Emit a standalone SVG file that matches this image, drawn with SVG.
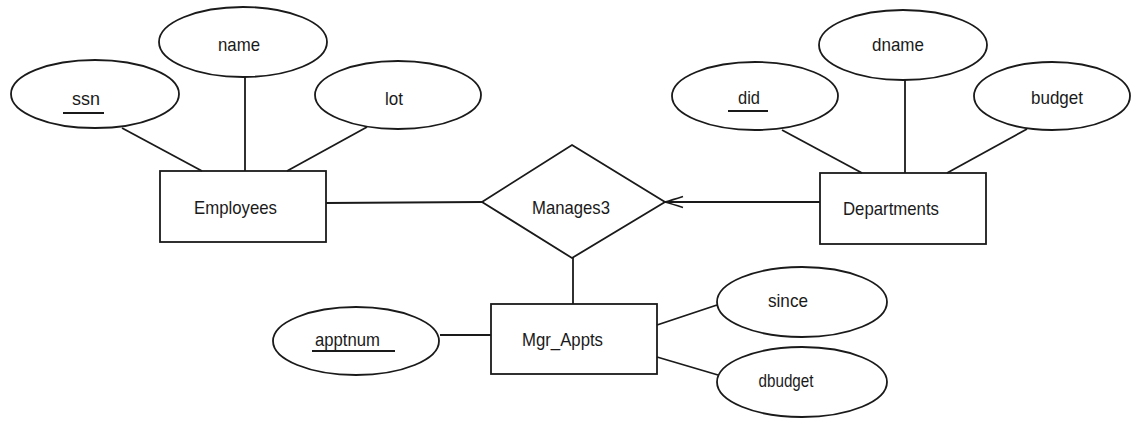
<svg xmlns="http://www.w3.org/2000/svg" width="1131" height="422" viewBox="0 0 1131 422">
  <defs>
    <style>
      .shape { fill: #ffffff; stroke: #1a1a1a; stroke-width: 1.8; }
      .conn { stroke: #1a1a1a; stroke-width: 1.8; fill: none; }
      .ul { stroke: #1a1a1a; stroke-width: 2; }
      text { font-family: "Liberation Sans", Arial, sans-serif; font-size: 19px; fill: #1a1a1a; text-anchor: middle; }
    </style>
    <marker id="openArrow" viewBox="0 0 20 14" refX="19" refY="7" markerWidth="20" markerHeight="14" markerUnits="userSpaceOnUse" orient="auto">
      <path d="M1,1.5 Q12,5 19,7 Q12,9 1,12.5" fill="none" stroke="#1a1a1a" stroke-width="1.6"/>
    </marker>
  </defs>
  <rect width="1131" height="422" fill="#ffffff"/>

  <g id="ssn">
    <ellipse class="shape" cx="95" cy="94" rx="84" ry="34"/>
    <text x="86" y="105" textLength="28" lengthAdjust="spacingAndGlyphs">ssn</text>
    <line class="ul" x1="63" y1="113" x2="104" y2="113"/>
  </g>
  <g id="name">
    <ellipse class="shape" cx="243" cy="42" rx="84" ry="35"/>
    <text x="239" y="51" textLength="42" lengthAdjust="spacingAndGlyphs">name</text>
  </g>
  <g id="lot">
    <ellipse class="shape" cx="398" cy="95" rx="83" ry="34"/>
    <text x="394" y="105" textLength="18" lengthAdjust="spacingAndGlyphs">lot</text>
  </g>
  <g id="Employees">
    <rect class="shape" x="160" y="171" width="166" height="71"/>
    <text x="235.5" y="214" textLength="83" lengthAdjust="spacingAndGlyphs">Employees</text>
  </g>

  <g id="Manages3">
    <polygon class="shape" points="572,145 665,202 572,258 482,202"/>
    <text x="571" y="214" textLength="78" lengthAdjust="spacingAndGlyphs">Manages3</text>
  </g>

  <g id="did">
    <ellipse class="shape" cx="755" cy="96" rx="83" ry="34"/>
    <text x="749" y="104" textLength="22" lengthAdjust="spacingAndGlyphs">did</text>
    <line class="ul" x1="728" y1="111" x2="768" y2="111"/>
  </g>
  <g id="dname">
    <ellipse class="shape" cx="903" cy="45" rx="84" ry="35"/>
    <text x="898" y="51" textLength="52" lengthAdjust="spacingAndGlyphs">dname</text>
  </g>
  <g id="budget">
    <ellipse class="shape" cx="1052" cy="96" rx="78" ry="34"/>
    <text x="1057" y="104" textLength="52" lengthAdjust="spacingAndGlyphs">budget</text>
  </g>
  <g id="Departments">
    <rect class="shape" x="820" y="173" width="166" height="71"/>
    <text x="891" y="215" textLength="96" lengthAdjust="spacingAndGlyphs">Departments</text>
  </g>

  <g id="Mgr_Appts">
    <rect class="shape" x="491" y="304" width="166" height="70"/>
    <text x="562.5" y="346" textLength="81" lengthAdjust="spacingAndGlyphs">Mgr_Appts</text>
  </g>
  <g id="apptnum">
    <ellipse class="shape" cx="356" cy="341" rx="83" ry="34"/>
    <text x="347.5" y="346" textLength="65" lengthAdjust="spacingAndGlyphs">apptnum</text>
    <line class="ul" x1="312" y1="351" x2="395" y2="351"/>
  </g>
  <g id="since">
    <ellipse class="shape" cx="802" cy="302" rx="85" ry="35"/>
    <text x="788" y="307" textLength="40" lengthAdjust="spacingAndGlyphs">since</text>
  </g>
  <g id="dbudget">
    <ellipse class="shape" cx="802" cy="382" rx="85" ry="35"/>
    <text x="786" y="387" textLength="55" lengthAdjust="spacingAndGlyphs">dbudget</text>
  </g>

  <g id="connectors">
    <line class="conn" x1="122" y1="128" x2="202" y2="171"/>
    <line class="conn" x1="245" y1="77" x2="245" y2="171"/>
    <line class="conn" x1="367" y1="127" x2="287" y2="171"/>
    <line class="conn" x1="326" y1="203" x2="482" y2="202"/>
    <line class="conn" x1="820" y1="202" x2="665" y2="202" marker-end="url(#openArrow)"/>
    <line class="conn" x1="782" y1="130" x2="862" y2="173"/>
    <line class="conn" x1="905" y1="80" x2="905" y2="173"/>
    <line class="conn" x1="1027" y1="129" x2="947" y2="173"/>
    <line class="conn" x1="573" y1="258" x2="573" y2="304"/>
    <line class="conn" x1="440" y1="335" x2="491" y2="335"/>
    <line class="conn" x1="657" y1="325" x2="717" y2="305"/>
    <line class="conn" x1="657" y1="357" x2="718" y2="375"/>
  </g>
</svg>
